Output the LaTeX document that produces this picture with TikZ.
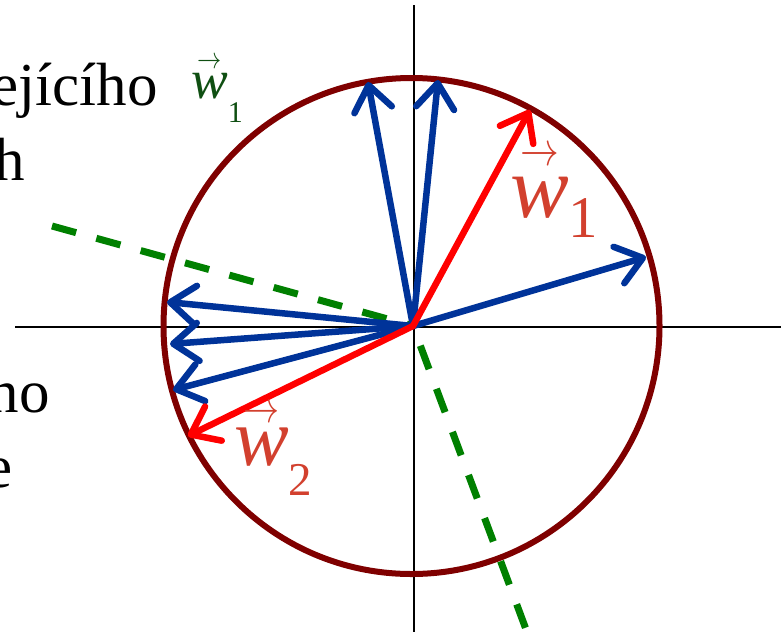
\documentclass[tikz,border=0pt]{standalone}
\usepackage{fontspec}
\usepackage{graphicx}
\setmainfont{Liberation Serif}
\usetikzlibrary{arrows.meta}
\definecolor{VecBlue}{HTML}{003399}
\definecolor{VecRed}{HTML}{FF0000}
\definecolor{RingRed}{HTML}{7F0000}
\definecolor{SplitGreen}{HTML}{008000}
\definecolor{LabelGreen}{HTML}{0F4F12}
\definecolor{LabelRed}{HTML}{D2402E}
% #1 index, #2 index size, #3 index drop, #4 arrow lift
\newcommand{\wvec}[4]{\ooalign{\textit{w}\cr\hidewidth\raisebox{#4}{\resizebox{0.44em}{0.2em}{$\rightarrow$}}\hidewidth\cr}\raisebox{-#3}{\fontsize{#2}{#2}\selectfont #1}}
\tikzset{
  axisline/.style={line width=1.8pt,draw=black},
  ringline/.style={line width=6pt,draw=RingRed},
  splitline/.style={line width=7pt,draw=SplitGreen,dash pattern=on 25pt off 21pt},
  vecarrow/.style={-{Straight Barb[length=25pt,width=38pt,round]},line width=6.5pt,line cap=round},
  bluevec/.style={vecarrow,draw=VecBlue},
  redvec/.style={vecarrow,draw=VecRed},
  bodytext/.style={inner sep=0pt,anchor=base east,font=\fontsize{61}{75}\selectfont},
  greenlabel/.style={inner sep=0pt,anchor=base west,text=LabelGreen,font=\fontsize{55}{60}\selectfont},
  redlabel/.style={inner sep=0pt,anchor=base west,text=LabelRed}
}

\begin{document}
\begin{tikzpicture}[x=1pt,y=-1pt]
  \useasboundingbox (0,0) rectangle (781,632);
  \clip (0,0) rectangle (781,632);

  \node[bodytext] (lineA) at (158,105) {ejícího};
  \node[bodytext] (lineB) at (25,180) {h};
  \node[bodytext] (lineC) at (50,412) {no};
  \node[bodytext] (lineD) at (13,487) {e};

  \coordinate (o) at (413,326);
  \coordinate (xl) at (15,327);
  \coordinate (xr) at (781,327);
  \coordinate (yt) at (414,5);
  \coordinate (yb) at (414,632);
  \draw[axisline] (xl) -- (xr);
  \draw[axisline] (yt) -- (yb);

  \draw[ringline] (411.5,326) circle (248);

  \coordinate (gA) at (52,226);
  \coordinate (gB) at (527,632);
  \draw[splitline] (gA) -- (o);
  \draw[splitline,dash phase=25pt] (o) -- (gB);

  \foreach \tx/\ty [count=\i] in {368/82,438/80,646/257,167/302,170/344,173/390}
    \coordinate (b\i) at (\tx,\ty);
  \foreach \i in {1,...,6}
    \draw[bluevec] (o) -- (b\i);

  \coordinate (r1) at (530,110);
  \coordinate (r2) at (188,436);
  \draw[redvec] (o) -- (r1);
  \draw[redvec] (o) -- (r2);

  \node[greenlabel] (gw1) at (191,98) {\wvec{1}{30}{24pt}{0.54em}};
  \node[redlabel,font=\fontsize{88}{90}\selectfont] (rw1) at (510,217) {\wvec{1}{59}{20pt}{0.58em}};
  \node[redlabel,font=\fontsize{82}{90}\selectfont] (rw2) at (234,465) {\wvec{2}{47}{30pt}{0.52em}};
\end{tikzpicture}
\end{document}
